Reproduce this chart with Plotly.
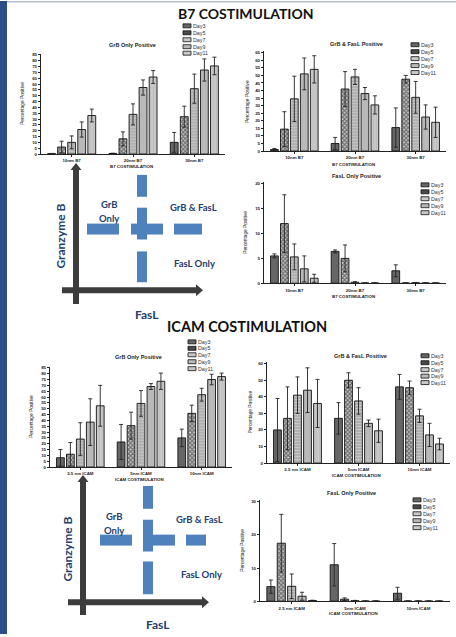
import plotly.graph_objects as go

W, H = 456, 637

days = ["Day3", "Day5", "Day7", "Day9", "Day11"]
b7_cats = ["10nm B7", "20nm B7", "30nm B7"]
icam_cats = ["2.5 nm ICAM", "5nm ICAM", "10nm ICAM"]

# rows = days (Day3..Day11), columns = categories
b7_grb_only = [[0.3, 0.5, 10], [6, 13, 32], [10, 34, 56], [21, 57, 72], [33, 66, 75.5]]
b7_grb_only_err = [[0.2, 0.2, 8.5], [5, 6, 9], [5.5, 9, 12.5], [6.5, 6.5, 9.5], [5.5, 5.5, 7.5]]

b7_grb_fasl = [[1, 5, 15.5], [14.5, 41, 47.5], [34.5, 49, 35.5], [51, 38, 22.5], [54, 30.5, 19]]
b7_grb_fasl_err = [[0.7, 4, 13], [11.5, 11.5, 2.5], [15, 5, 10.5], [10.5, 4, 8], [9, 6, 10]]

b7_fasl_only = [[5.5, 6.4, 2.5], [12, 5, 0.05], [5.3, 0.2, 0.1], [2.9, 0.05, 0.05], [1, 0.05, 0.05]]
b7_fasl_only_err = [[0.4, 0.3, 1.2], [5.8, 2.7, 0], [2.6, 0.1, 0.05], [2.6, 0, 0], [0.8, 0, 0]]

icam_grb_only = [[8, 21.5, 25], [11, 35.5, 46], [24, 54.5, 62], [38.5, 69, 75], [52.5, 73.5, 77.5]]
icam_grb_only_err = [[7, 15, 7.5], [10, 11.5, 7], [14, 11, 5.5], [20, 2.5, 4.5], [17.5, 7, 3]]

icam_grb_fasl = [[20, 27, 46], [27, 50, 45.5], [41, 37.5, 28.5], [44, 24, 17], [36, 19.5, 11.5]]
icam_grb_fasl_err = [[19, 9.5, 7.5], [19, 4.5, 4], [11, 8, 4], [13.5, 2, 7], [14.5, 7, 3.5]]

icam_fasl_only = [[4.4, 11, 2.4], [17.5, 0.6, 0.05], [4.5, 0.15, 0.05], [1.5, 0.05, 0.05], [0.2, 0.05, 0.05]]
icam_fasl_only_err = [[2, 6.4, 1.8], [8.7, 0.4, 0], [3.7, 0.1, 0], [1.2, 0, 0], [0.1, 0, 0]]

FONT = "Liberation Sans"
BLUE_TXT = "#23406e"
DASH_BLUE = "#4f81bd"
AXIS_DARK = "#3c3c3c"


def px(x):
    return x / W


def py(y):
    return 1 - y / H


day_styles = [
    dict(color="#666666"),
    dict(color="#9a9a9a", pattern=dict(shape="x", fgcolor="#1a1a1a", bgcolor="#c8c8c8", size=3, solidity=0.65)),
    dict(color="#b4b4b4", pattern=dict(shape="-", fgcolor="#dedede", bgcolor="#b0b0b0", size=3, solidity=0.35)),
    dict(color="#b9b9b9"),
    dict(color="#c8c8c8", pattern=dict(shape="|", fgcolor="#b0b0b0", bgcolor="#c8c8c8", size=3, solidity=0.25)),
]
legend_swatch = ["#666666", "#4a4a4a", "#c9c9c9", "#b9b9b9", "#c8c8c8"]

# chart specs
charts = [
    (b7_grb_only, b7_grb_only_err, b7_cats, 41, 225, 53, 154, 86, 5, "GrB Only Positive", "B7 COSTIMULATION",
     (132, 44), (183, [25, 32, 39, 46, 52.5]), 23, 166.5),
    (b7_grb_fasl, b7_grb_fasl_err, b7_cats, 264, 446, 50.5, 151, 66, 5, "GrB & FasL Positive", "B7 COSTIMULATION",
     (356, 43), (411, [44, 51, 58, 65, 72]), 247, 164.5),
    (b7_fasl_only, b7_fasl_only_err, b7_cats, 264, 446, 182.5, 284, 20.3, 5, "FasL Only Positive", "B7 COSTIMULATION",
     (356, 176), (421, [185, 192, 199, 206, 213]), 246, 297),
    (icam_grb_only, icam_grb_only_err, icam_cats, 50, 232, 368, 469, 86, 5, "GrB Only Positive", "ICAM COSTIMULATION",
     (138, 358), (188, [343, 349.5, 356, 363, 370]), 32, 481.5),
    (icam_grb_fasl, icam_grb_fasl_err, icam_cats, 267, 450, 363.3, 465, 61, 10, "GrB & FasL Positive", "ICAM COSTIMULATION",
     (360, 357), (421, [357, 364, 371, 377.5, 384]), 251, 477.5),
    (icam_fasl_only, icam_fasl_only_err, icam_cats, 260, 450, 502.3, 604, 30.5, 10, "FasL Only Positive", "ICAM COSTIMULATION",
     (351, 495), (413, [502, 509, 516, 523, 530]), 243, 616.5),
]

fig = go.Figure()
annotations = []
shapes = []


def text(t, x, y, size, family=FONT, color="#222222", weight="normal", angle=0, xanchor="center"):
    annotations.append(dict(x=px(x), y=py(y), xref="paper", yref="paper", text=t, showarrow=False,
                            xanchor=xanchor, yanchor="middle", textangle=angle,
                            borderpad=0, font=dict(family=family, size=size, color=color, weight=weight)))


for i, (vals, errs, cats, x0, x1, ytop, ybot, ymax, dtick, title, xtitle, tpos, leg, ytx, xty) in enumerate(charts):
    k = i + 1
    xa = "x" if k == 1 else f"x{k}"
    ya = "y" if k == 1 else f"y{k}"
    for d in range(5):
        fig.add_trace(go.Bar(
            x=cats, y=vals[d], name=days[d], xaxis=xa, yaxis=ya, showlegend=False,
            marker=dict(line=dict(color="#111111", width=0.9), **day_styles[d]),
            error_y=dict(type="data", array=errs[d], visible=True, color="#222222", thickness=0.9, width=2),
        ))
    axis_common = dict(showline=True, linecolor="#222222", linewidth=1.2, ticks="outside", ticklen=2,
                       tickwidth=0.8, tickcolor="#222222", showgrid=False, zeroline=False,
                       tickfont=dict(family=FONT, size=4.4, color="#222222", weight="bold"))
    xname = "xaxis" if k == 1 else f"xaxis{k}"
    yname = "yaxis" if k == 1 else f"yaxis{k}"
    fig.layout[xname] = dict(domain=[px(x0), px(x1)], anchor=ya, type="category", range=[-0.5, 2.5],
                             ticklabelstandoff=0, **axis_common)
    fig.layout[yname] = dict(domain=[py(ybot), py(ytop)], anchor=xa, range=[0, ymax], dtick=dtick,
                             **axis_common)
    text(title, tpos[0], tpos[1], 5.5, weight="bold")
    text(xtitle, (x0 + x1) / 2 - 2, xty, 4.4, weight="bold")
    text("Percentage Positive", ytx, (ytop + ybot) / 2, 4.8, angle=-90)
    lx, lys = leg
    for d in range(5):
        shapes.append(dict(type="rect", xref="paper", yref="paper",
                           x0=px(lx), x1=px(lx + 8), y0=py(lys[d] + 2), y1=py(lys[d] - 2),
                           fillcolor=legend_swatch[d], line=dict(color="#111111", width=0.8)))
        text(days[d], lx + 9, lys[d], 5.3, color="#333333", xanchor="left")

# frame: left blue bar & top line
shapes.append(dict(type="rect", xref="paper", yref="paper", x0=0, x1=px(7), y0=0, y1=1,
                   fillcolor="#2b4e85", line=dict(width=0), layer="above"))
shapes.append(dict(type="rect", xref="paper", yref="paper", x0=px(7), x1=1, y0=py(1.5), y1=1,
                   fillcolor="#b3c0d3", line=dict(width=0)))

# main section titles
text("B7 COSTIMULATION", 246, 13, 14, family="Lato", color="#111111", weight="bold")
text("ICAM COSTIMULATION", 247, 328, 14.5, family="Lato", color="#111111", weight="bold")


def rect(x0, x1, y0, y1, color):
    shapes.append(dict(type="rect", xref="paper", yref="paper", x0=px(x0), x1=px(x1), y0=py(y1), y1=py(y0),
                       fillcolor=color, line=dict(width=0)))


def tri(points, color):
    path = "M " + " L ".join(f"{px(a)},{py(b)}" for a, b in points) + " Z"
    shapes.append(dict(type="path", xref="paper", yref="paper", path=path, fillcolor=color,
                       line=dict(width=0)))


def quadrant(vx, vtop, vbot, hy, hx0, hx1, dvx, dv_segs, dhy, dh_segs, txt):
    for a, b in dv_segs:
        rect(dvx - 5, dvx + 5, a, b, DASH_BLUE)
    for a, b in dh_segs:
        rect(a, b, dhy - 5.5, dhy + 5.5, DASH_BLUE)
    rect(vx - 3, vx + 3, vtop + 6, vbot, AXIS_DARK)
    tri([(vx - 5.5, vtop + 7), (vx + 5.5, vtop + 7), (vx, vtop)], AXIS_DARK)
    rect(hx0, hx1 - 6, hy - 3, hy + 3, AXIS_DARK)
    tri([(hx1 - 7, hy - 6), (hx1 - 7, hy + 6), (hx1, hy)], AXIS_DARK)
    for t, x, y, size, ang in txt:
        text(t, x, y, size, family="Lato", color=BLUE_TXT, weight="bold", angle=ang)


quadrant(76, 163, 305, 291, 62, 203, 142, [(175, 197), (208, 240), (252, 283)], 229.5,
         [(87, 119), (131, 163), (174, 202)],
         [("GrB", 109, 205, 9.5, 0), ("Only", 109, 219, 9.5, 0), ("GrB & FasL", 193, 208, 9.5, 0),
          ("FasL Only", 194, 264, 9.5, 0), ("Granzyme B", 61, 237, 12, -90), ("FasL", 147, 315, 12, 0)])

quadrant(83, 477, 618, 605, 68, 209, 148, [(488, 511), (522, 554), (564, 597)], 542.5,
         [(100, 132), (143, 175), (186, 206)],
         [("GrB", 114, 519, 9.5, 0), ("Only", 114, 533, 9.5, 0), ("GrB & FasL", 199, 522, 9.5, 0),
          ("FasL Only", 201, 577, 9.5, 0), ("Granzyme B", 68, 552, 12, -90), ("FasL", 158, 627, 12, 0)])

fig.update_layout(
    width=W, height=H, margin=dict(l=0, r=0, t=0, b=0),
    paper_bgcolor="white", plot_bgcolor="white",
    barmode="group", bargap=0.18, bargroupgap=0.22,
    annotations=annotations, shapes=shapes, showlegend=False,
)

fig.write_html("out.html", config={"displayModeBar": False},
               post_script="document.body.style.margin='0px';document.body.style.overflow='hidden';")
